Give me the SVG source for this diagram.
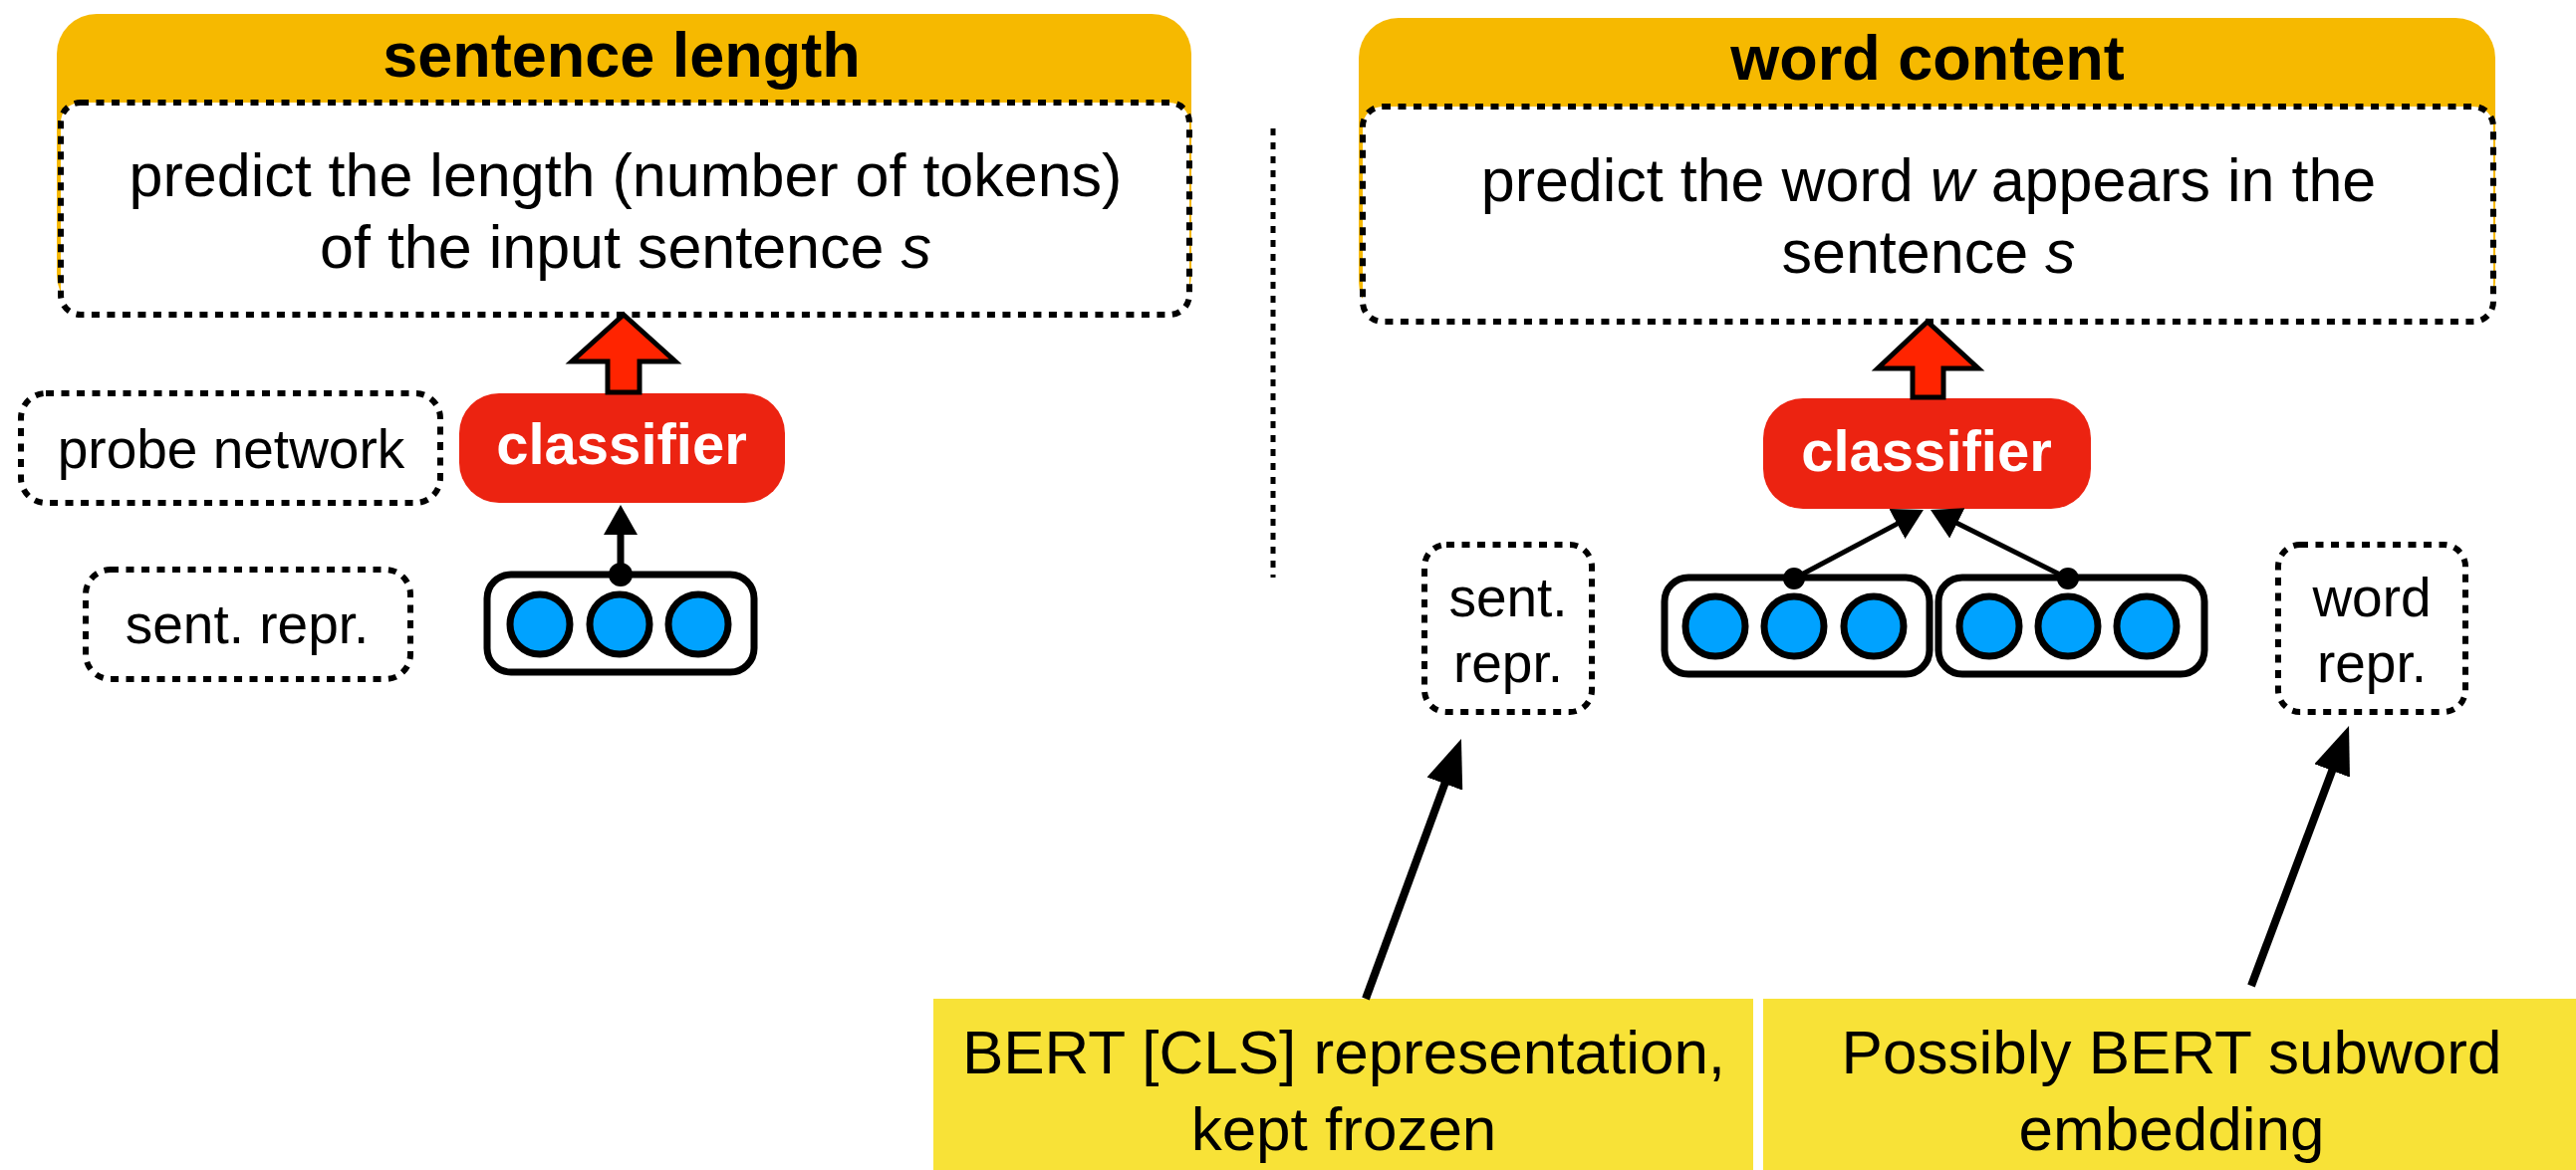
<svg xmlns="http://www.w3.org/2000/svg" width="2586" height="1175" viewBox="0 0 2586 1175">
<defs>
<style>
text{font-family:"Liberation Sans",Arial,Helvetica,sans-serif;fill:#000;text-anchor:middle}
.hdr{font-size:63px;font-weight:bold}
.body{font-size:61px}
.lbl{font-size:55px}
.cls{font-size:58px;font-weight:bold;fill:#fff}
.note{font-size:62px}
.orange{fill:#F6B900}
.task{fill:#fff;stroke:#000;stroke-width:6;stroke-dasharray:8 7.5}
.dash{fill:#fff;stroke:#000;stroke-width:6;stroke-dasharray:8 7.5}
.clsbox{fill:#EC2311}
.blk{fill:#FF2400;stroke:#000;stroke-width:5;stroke-linejoin:miter}
.vec{fill:#fff;stroke:#000;stroke-width:7}
.unit{fill:#00A2FF;stroke:#000;stroke-width:7}
.yel{fill:#F8E237}
.conn{stroke:#000;fill:none}
</style>
<marker id="ahs" markerUnits="userSpaceOnUse" markerWidth="30" markerHeight="34" viewBox="0 0 30 34" refX="10" refY="17" orient="auto">
<path d="M0,0 L30,17 L0,34 z" fill="#000"/>
</marker>
<marker id="ahb" markerUnits="userSpaceOnUse" markerWidth="48" markerHeight="38" viewBox="0 0 48 38" refX="18" refY="19" orient="auto">
<path d="M0,0 L48,19 L0,38 z" fill="#000"/>
</marker>
</defs>
<rect width="2586" height="1175" fill="#fff"/>

<g id="task-sentence-length">
<rect class="orange" x="57" y="14" width="1139" height="302" rx="40"/>
<rect class="task" x="61" y="103" width="1133" height="213" rx="20"/>
<text class="hdr" x="624" y="77">sentence length</text>
<text class="body" x="628" y="197">predict the length (number of tokens)</text>
<text class="body" x="628" y="269">of the input sentence <tspan font-style="italic">s</tspan></text>
</g>

<g id="task-word-content">
<rect class="orange" x="1364" y="18" width="1141" height="305" rx="40"/>
<rect class="task" x="1368" y="107" width="1135" height="216" rx="20"/>
<text class="hdr" x="1935" y="80">word content</text>
<text class="body" x="1936" y="202">predict the word <tspan font-style="italic">w</tspan> appears in the</text>
<text class="body" x="1936" y="274">sentence <tspan font-style="italic">s</tspan></text>
</g>

<g id="probe-network-label">
<rect class="dash" x="21" y="395" width="421" height="110" rx="25"/>
<text class="lbl" x="232" y="470">probe network</text>
</g>

<g id="sent-repr-label-left">
<rect class="dash" x="86" y="572" width="326" height="110" rx="25"/>
<text class="lbl" x="248" y="646">sent. repr.</text>
</g>

<g id="classifier-left">
<rect class="clsbox" x="461" y="395" width="327" height="110" rx="40"/>
<text class="cls" x="624" y="466">classifier</text>
</g>

<g id="vector-left">
<rect class="vec" x="489" y="577" width="268" height="98" rx="24"/>
<circle class="unit" cx="542" cy="627" r="30"/>
<circle class="unit" cx="622" cy="627" r="30"/>
<circle class="unit" cx="701" cy="627" r="30"/>
</g>

<g id="classifier-right">
<rect class="clsbox" x="1770" y="400" width="329" height="111" rx="40"/>
<text class="cls" x="1934" y="473">classifier</text>
</g>

<g id="vector-right-sent">
<rect class="vec" x="1671" y="580" width="266" height="97" rx="24"/>
<circle class="unit" cx="1722" cy="629" r="30"/>
<circle class="unit" cx="1801" cy="629" r="30"/>
<circle class="unit" cx="1881" cy="629" r="30"/>
</g>

<g id="vector-right-word">
<rect class="vec" x="1946" y="580" width="267" height="97" rx="24"/>
<circle class="unit" cx="1997" cy="629" r="30"/>
<circle class="unit" cx="2076" cy="629" r="30"/>
<circle class="unit" cx="2155" cy="629" r="30"/>
</g>

<g id="sent-repr-label-right">
<rect class="dash" x="1430" y="547" width="168" height="168" rx="22"/>
<text class="lbl" x="1514" y="619">sent.</text>
<text class="lbl" x="1514" y="685">repr.</text>
</g>

<g id="word-repr-label">
<rect class="dash" x="2287" y="547" width="188" height="168" rx="22"/>
<text class="lbl" x="2381" y="619">word</text>
<text class="lbl" x="2381" y="685">repr.</text>
</g>

<g id="note-cls">
<rect class="yel" x="937" y="1003" width="823" height="172"/>
<text class="note" x="1349" y="1078">BERT [CLS] representation,</text>
<text class="note" x="1349" y="1155">kept frozen</text>
</g>

<g id="note-subword">
<rect class="yel" x="1770" y="1003" width="816" height="172"/>
<text class="note" x="2180" y="1078">Possibly BERT subword</text>
<text class="note" x="2180" y="1155">embedding</text>
</g>

<g id="connectors">
<line x1="1278" y1="129" x2="1278" y2="580" stroke="#000" stroke-width="5" stroke-dasharray="7 7"/>
<polygon class="blk" points="626,316 678,363 642,363 642,394 610,394 610,363 574,363"/>
<polygon class="blk" points="1935,323 1986,370 1951,370 1951,399 1920,399 1920,370 1885,370"/>
<line class="conn" x1="623" y1="577" x2="623" y2="527" stroke-width="7" marker-end="url(#ahs)"/>
<circle cx="623" cy="577" r="12" fill="#000"/>
<line class="conn" x1="1801" y1="581" x2="1913.3" y2="521.4" stroke-width="5" marker-end="url(#ahs)"/>
<line class="conn" x1="2076" y1="581" x2="1955.9" y2="520.9" stroke-width="5" marker-end="url(#ahs)"/>
<circle cx="1801" cy="581" r="11" fill="#000"/>
<circle cx="2076" cy="581" r="11" fill="#000"/>
<line class="conn" x1="1371" y1="1003" x2="1456.6" y2="770.2" stroke-width="8" marker-end="url(#ahb)"/>
<line class="conn" x1="2260" y1="990" x2="2347.5" y2="757.1" stroke-width="8" marker-end="url(#ahb)"/>
</g>
</svg>
